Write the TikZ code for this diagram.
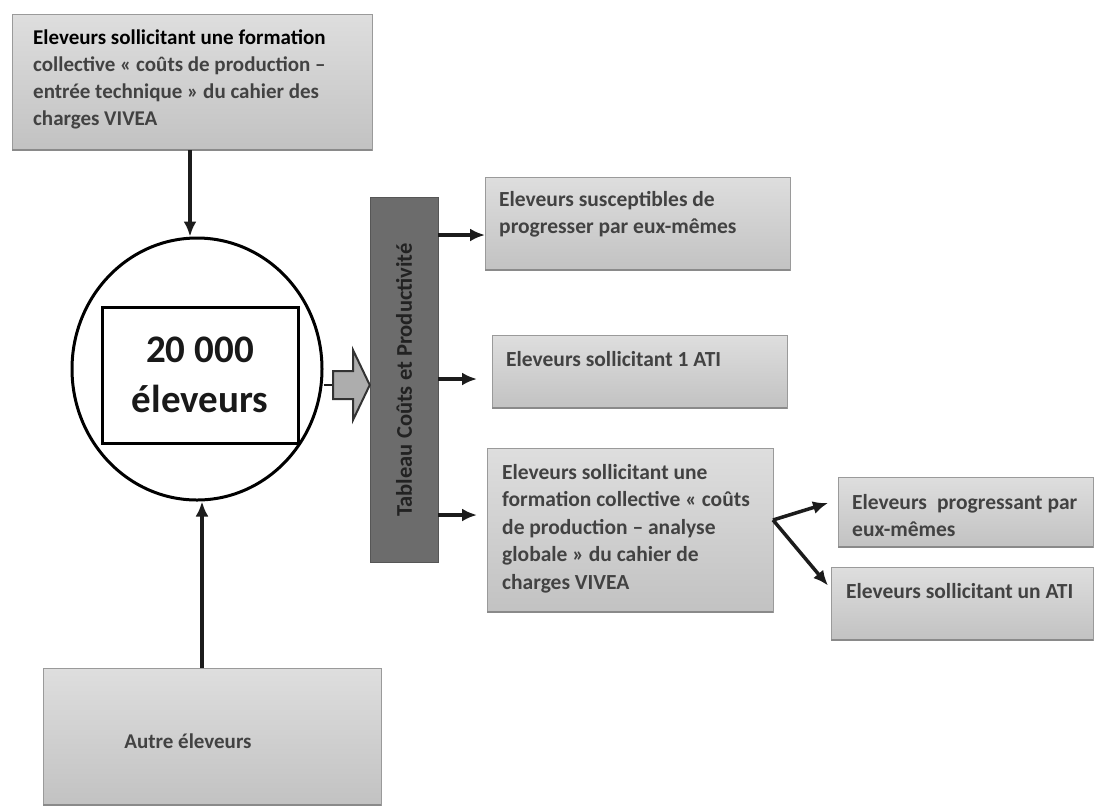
\documentclass[tikz,border=0pt]{standalone}
\usepackage{fontspec}
\setmainfont{Carlito}
\usetikzlibrary{arrows.meta,shapes.geometric,calc}
\definecolor{boxtop}{HTML}{DEDEDE}
\definecolor{boxbot}{HTML}{C2C2C2}
\definecolor{boxline}{HTML}{9A9A9A}
\definecolor{boxshade}{HTML}{8A8A8A}
\definecolor{txtgray}{HTML}{424242}
\definecolor{bargray}{HTML}{6C6C6C}
\definecolor{bartext}{HTML}{222222}
\definecolor{blockfill}{HTML}{ADADAD}
\definecolor{linecol}{HTML}{1C1C1C}
\begin{document}
\begin{tikzpicture}[x=1pt,y=-1pt,
  box/.style={draw=boxline, line width=0.8pt, top color=boxtop, bottom color=boxbot,
    inner sep=0pt, outer sep=0pt, rectangle},
  shadeline/.style={draw=boxshade, line width=2.5pt},
  txt/.style={anchor=north west, inner sep=0pt, align=left, text=txtgray,
    font=\fontsize{21.5}{27.5}\selectfont\bfseries},
  conn/.style={draw=linecol, line width=3.5pt, -{Latex[length=15pt,width=13pt]}}
]
\useasboundingbox (0,0) rectangle (1094,807);
\fill[white] (0,0) rectangle (1094,807);

% boxes
\node[box, minimum width=360pt, minimum height=136pt] (top) at (192,82) {};
\node[box, minimum width=305pt, minimum height=93pt] (b1) at (637.5,223.5) {};
\node[box, minimum width=295pt, minimum height=73pt] (b2) at (639.5,371.5) {};
\node[box, minimum width=286pt, minimum height=164pt] (b3) at (630,530) {};
\node[box, minimum width=255pt, minimum height=70pt] (b4) at (965.5,512) {};
\node[box, minimum width=262pt, minimum height=73pt] (b5) at (962,603.5) {};
\node[box, minimum width=338pt, minimum height=137pt] (bot) at (212,736.5) {};
\foreach \b in {top,b1,b2,b3,b4,b5,bot}
  \draw[shadeline] (\b.south west) -- (\b.south east);

% bar
\node[rectangle, fill=bargray, draw=bargray!80!black, line width=0.5pt,
  minimum width=68pt, minimum height=365pt, inner sep=0pt] (bar) at (404,379.5) {};
\node[rotate=90, text=bartext, inner sep=0pt,
  font=\fontsize{22.5}{27}\selectfont\bfseries] (bartxt) at (404,380) {Tableau Coûts et Productivité};

% circle and inner rectangle
\node[ellipse, draw=black, line width=3pt, minimum width=250pt, minimum height=262pt,
  inner sep=0pt] (circ) at (197,369) {};
\node[rectangle, draw=black, line width=3pt, minimum width=196pt, minimum height=136pt,
  inner sep=0pt, align=center, font=\fontsize{39}{50}\selectfont\bfseries,
  text=black!90] (inner) at (200,375) {20 000\\éleveurs};

% texts
\node[txt, font=\fontsize{21}{27}\selectfont\bfseries] (ttop) at (33,30)
  {\textcolor{black}{Eleveurs sollicitant une formation}\\
   collective « coûts de production –\\
   entrée technique » du cahier des\\
   charges VIVEA};
\node[txt] (tb1) at (499,191) {Eleveurs susceptibles de\\progresser par eux-mêmes};
\node[txt] (tb2) at (506,351) {Eleveurs sollicitant 1 ATI};
\node[txt] (tb3) at (502,464) {Eleveurs sollicitant une\\formation collective « coûts\\de production – analyse\\globale » du cahier de\\charges VIVEA};
\node[txt] (tb4) at (852,494) {Eleveurs\hspace{0.25em} progressant par\\eux-mêmes};
\node[txt] (tb5) at (846,583) {Eleveurs sollicitant un ATI};
\node[text=txtgray, inner sep=0pt, font=\fontsize{21}{26}\selectfont\bfseries] (tbot) at (188,741) {Autre éleveurs};

% connectors
\coordinate (xa) at (190,0);
\coordinate (xb) at (202,0);
\draw[conn] (top.south -| xa) -- (circ.north -| xa);
\draw[conn] (bot.north -| xb) -- (circ.south -| xb);

\coordinate (y1) at (0,235);
\coordinate (y2) at (0,379);
\coordinate (y3) at (0,515);
\draw[conn] (bar.east |- y1) -- (b1.west |- y1);
\draw[conn, shorten >=15pt] (bar.east |- y2) -- (b2.west |- y2);
\draw[conn, shorten >=10pt] (bar.east |- y3) -- (b3.west |- y3);

\coordinate (ap) at (0,520);
\draw[conn] (b3.east |- ap) -- ($(b4.west)+(-10,-9)$);
\draw[conn] (b3.east |- ap) -- ($(b5.west)+(-3,-18)$);

% block arrow from circle to bar
\draw[draw=linecol, line width=2pt] (circ.east |- 0,385) -- (333,385);
\draw[draw=linecol!90, line width=2pt, fill=blockfill, line join=miter]
  (333,371) -- (353,371) -- (353,350) -- (bar.west |- 0,385) -- (353,420) -- (353,399) -- (333,399) -- cycle;
\end{tikzpicture}
\end{document}
